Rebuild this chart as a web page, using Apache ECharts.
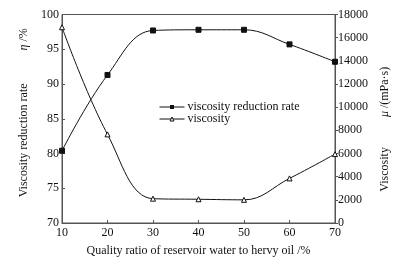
<!DOCTYPE html>
<html>
<head>
<meta charset="utf-8">
<script src="https://cdn.jsdelivr.net/npm/echarts@6/dist/echarts.min.js"></script>
<style>
  html, body { margin: 0; padding: 0; background: #fff; }
  #chart { width: 399px; height: 267px; }
</style>
</head>
<body>
<div id="chart"></div>
<script>
// mass ratio of reservoir water to heavy oil (%)
const ratios = [10, 20, 30, 40, 50, 60, 70];
// viscosity reduction rate eta (%)
const reductionRate = [80.4, 91.3, 97.7, 97.8, 97.8, 95.7, 93.2];
// viscosity mu (mPa·s)
const viscosity = [16900, 7650, 2100, 2050, 2000, 3850, 5950];

const FONT = "Liberation Serif";
const AXIS_COLOR = "#555";

const chart = echarts.init(document.getElementById("chart"));

const option = {
  animation: false,
  textStyle: { fontFamily: FONT, color: "#111" },
  grid: { left: 62, right: 64, top: 14.5, bottom: 44, show: true, borderColor: AXIS_COLOR, borderWidth: 1 },
  legend: {
    orient: "vertical",
    left: 154,
    top: 96,
    itemWidth: 25,
    itemHeight: 5,
    itemGap: 0,
    textStyle: { fontFamily: FONT, fontSize: 12, color: "#111", padding: [0, 0, 0, -2] },
    data: [
      {
        name: "viscosity reduction rate",
        itemStyle: { color: "#111", borderColor: "#111", borderWidth: 0 },
        lineStyle: { color: "#111", width: 1 },
      },
      {
        name: "viscosity",
        itemStyle: { color: "#fff", borderColor: "#111", borderWidth: 1 },
        lineStyle: { color: "#111", width: 1 },
      },
    ],
  },
  xAxis: {
    type: "value",
    min: 10,
    max: 70,
    interval: 10,
    name: "Quality ratio of reservoir water to hervy oil /%",
    nameLocation: "middle",
    nameGap: 22,
    nameTextStyle: { fontFamily: FONT, fontSize: 12, color: "#111" },
    axisLine: { lineStyle: { color: AXIS_COLOR } },
    axisTick: { inside: true, length: 3, lineStyle: { color: AXIS_COLOR } },
    axisLabel: { fontFamily: FONT, fontSize: 12, color: "#111", margin: 4 },
    splitLine: { show: false },
  },
  yAxis: [
    {
      type: "value",
      min: 70,
      max: 100,
      interval: 5,
      name: "    Viscosity reduction rate           {i|η} /%",
      nameLocation: "middle",
      nameGap: 31,
      nameRotate: 90,
      nameTextStyle: {
        fontFamily: FONT, fontSize: 12, color: "#111",
        rich: { i: { fontFamily: FONT, fontStyle: "italic", fontSize: 12 } },
      },
      axisLine: { show: true, lineStyle: { color: AXIS_COLOR } },
      axisTick: { show: true, inside: true, length: 3, lineStyle: { color: AXIS_COLOR } },
      axisLabel: { fontFamily: FONT, fontSize: 12, color: "#111", margin: 3 },
      splitLine: { show: false },
    },
    {
      type: "value",
      min: 0,
      max: 18000,
      interval: 2000,
      position: "right",
      name: "Viscosity          {i|μ} /(mPa·s)       ",
      nameLocation: "middle",
      nameGap: 38,
      nameRotate: 90,
      nameTextStyle: {
        fontFamily: FONT, fontSize: 12, color: "#111",
        rich: { i: { fontFamily: FONT, fontStyle: "italic", fontSize: 12 } },
      },
      axisLine: { show: true, lineStyle: { color: AXIS_COLOR } },
      axisTick: { show: true, inside: false, length: 3, lineStyle: { color: AXIS_COLOR } },
      axisLabel: { fontFamily: FONT, fontSize: 12, color: "#111", margin: 3, formatter: (v) => String(v) },
      splitLine: { show: false },
    },
  ],
  series: [
    {
      name: "viscosity reduction rate",
      type: "line",
      yAxisIndex: 0,
      smooth: 0.4,
      data: ratios.map((r, i) => [r, reductionRate[i]]),
      symbol: "rect",
      symbolSize: 5,
      lineStyle: { color: "#111", width: 1 },
      itemStyle: { color: "#111", borderColor: "#111" },
    },
    {
      name: "viscosity",
      type: "line",
      yAxisIndex: 1,
      smooth: 0.4,
      data: ratios.map((r, i) => [r, viscosity[i]]),
      symbol: "triangle",
      symbolSize: 5,
      lineStyle: { color: "#111", width: 1 },
      itemStyle: { color: "#fff", borderColor: "#111", borderWidth: 1 },
    },
  ],
};

chart.setOption(option);
</script>
</body>
</html>
